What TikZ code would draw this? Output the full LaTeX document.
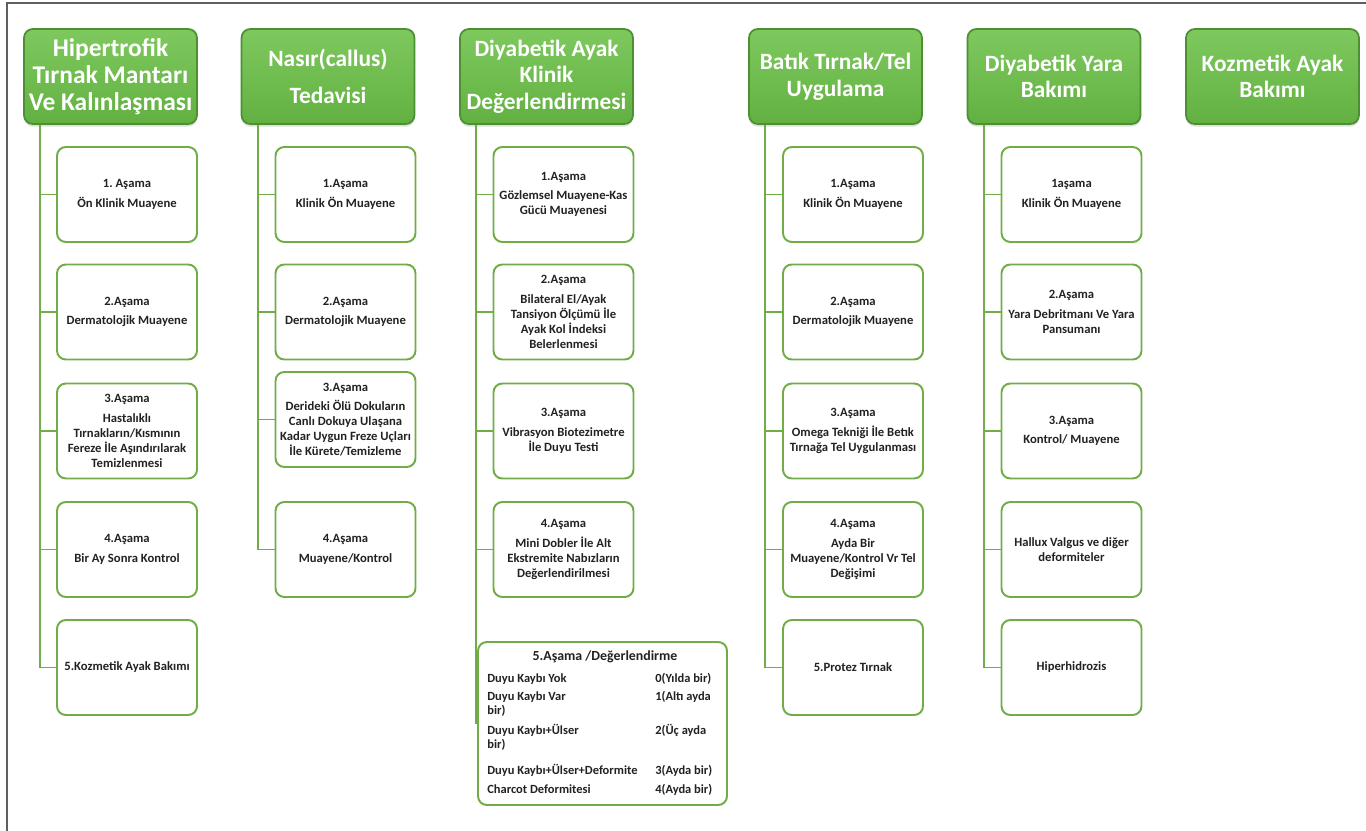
\documentclass[tikz,border=0pt]{standalone}
\usepackage{fontspec}
\setmainfont{Carlito}
\usetikzlibrary{calc, shadows}
\definecolor{hdtop}{RGB}{126,201,94}
\definecolor{hdbot}{RGB}{98,176,66}
\definecolor{hdedge}{RGB}{76,144,50}
\definecolor{stage}{RGB}{112,173,71}
\definecolor{ink}{RGB}{34,34,34}
\definecolor{framegray}{RGB}{95,95,95}

\tikzset{
  header/.style={rounded corners=5pt, top color=hdtop, bottom color=hdbot,
    draw=hdedge, line width=1pt, text=white, align=center,
    minimum width=3.46cm, minimum height=1.9cm, inner sep=1pt,
    font=\fontsize{13.3}{15.2}\selectfont\bfseries,
    drop shadow={shadow xshift=0pt, shadow yshift=-1.5pt, opacity=0.25}},
  stagebox/.style={rounded corners=5pt, draw=stage, line width=1.1pt,
    fill=white, text=ink, align=center,
    minimum width=2.8cm, minimum height=1.9cm, inner sep=1pt,
    font=\fontsize{7.2}{8.6}\selectfont\bfseries},
  link/.style={draw=stage, line width=1.1pt},
  cell/.style={text=ink, inner sep=0pt, anchor=base west,
    font=\fontsize{7.1}{8.6}\selectfont\bfseries},
}

\begin{document}
\begin{tikzpicture}[x=0.02cm, y=-0.02cm]
  \useasboundingbox (0,0) rectangle (1366,831);
  \draw[framegray, line width=1.2pt] (7,831) -- (7,3) -- (1366,3);

  % headers
  \node[header, font=\fontsize{14.5}{15.4}\selectfont\bfseries] (h1) at (110.5,76.5)
    {Hipertrofik\\Tırnak Mantarı\\Ve Kalınlaşması};
  \node[header] (h2) at (328,76.5) {Nasır(callus)\\[5.6pt]Tedavisi};
  \node[header] (h3) at (546.5,76.5) {Diyabetik Ayak\\Klinik\\Değerlendirmesi};
  \node[header] (h4) at (835.5,76.5) {Batık Tırnak/Tel\\Uygulama};
  \node[header] (h5) at (1054,76.5) {Diyabetik Yara\\Bakımı};
  \node[header] (h6) at (1272.5,76.5) {Kozmetik Ayak\\Bakımı};

  % spines
  \coordinate (s1) at ($(h1.south west)+(17,0)$);
  \coordinate (s2) at ($(h2.south west)+(17,0)$);
  \coordinate (s3) at ($(h3.south west)+(17,0)$);
  \coordinate (s4) at ($(h4.south west)+(17,0)$);
  \coordinate (s5) at ($(h5.south west)+(17,0)$);

  % column 1
  \node[stagebox] (c11) at (127,194.5) {1.\ Aşama\\[2.4pt]Ön Klinik Muayene};
  \node[stagebox] (c12) at (127,312) {2.Aşama\\[2.4pt]Dermatolojik Muayene};
  \node[stagebox] (c13) at (127,431) {3.Aşama\\[2.4pt]Hastalıklı\\Tırnakların/Kısmının\\Fereze İle Aşındırılarak\\Temizlenmesi};
  \node[stagebox] (c14) at (127,549.5) {4.Aşama\\[2.4pt]Bir Ay Sonra Kontrol};
  \node[stagebox] (c15) at (127,667.5) {5.Kozmetik Ayak Bakımı};

  % column 2
  \node[stagebox] (c21) at (345.5,194.5) {1.Aşama\\[2.4pt]Klinik Ön Muayene};
  \node[stagebox] (c22) at (345.5,312) {2.Aşama\\[2.4pt]Dermatolojik Muayene};
  \node[stagebox] (c23) at (345.5,419.5) {3.Aşama\\[2.4pt]Derideki Ölü Dokuların\\Canlı Dokuya Ulaşana\\Kadar Uygun Freze Uçları\\İle Kürete/Temizleme};
  \node[stagebox] (c24) at (345.5,549.5) {4.Aşama\\[2.4pt]Muayene/Kontrol};

  % column 3
  \node[stagebox] (c31) at (563.5,194.5) {1.Aşama\\[2.4pt]Gözlemsel Muayene-Kas\\Gücü Muayenesi};
  \node[stagebox] (c32) at (563.5,312) {2.Aşama\\[2.4pt]Bilateral El/Ayak\\Tansiyon Ölçümü İle\\Ayak Kol İndeksi\\Belerlenmesi};
  \node[stagebox] (c33) at (563.5,431) {3.Aşama\\[2.4pt]Vibrasyon Biotezimetre\\İle Duyu Testi};
  \node[stagebox] (c34) at (563.5,549.5) {4.Aşama\\[2.4pt]Mini Dobler İle Alt\\Ekstremite Nabızların\\Değerlendirilmesi};
  \node[stagebox, minimum width=4.98cm, minimum height=3.26cm] (c35) at (602.5,723.5) {};
  \node[cell, anchor=base, font=\fontsize{7.9}{9}\selectfont\bfseries] (t0) at (605,660) {5.Aşama /Değerlendirme};
  \node[cell] (t1a) at (487,682) {Duyu Kaybı Yok};
  \node[cell] (t1b) at (655,682) {0(Yılda bir)};
  \node[cell] (t2a) at (487,700) {Duyu Kaybı Var};
  \node[cell] (t2b) at (655,700) {1(Altı ayda};
  \node[cell] (t2c) at (487,714) {bir)};
  \node[cell] (t3a) at (487,734) {Duyu Kaybı+Ülser};
  \node[cell] (t3b) at (655,734) {2(Üç ayda};
  \node[cell] (t3c) at (487,748) {bir)};
  \node[cell] (t4a) at (487,774) {Duyu Kaybı+Ülser+Deformite};
  \node[cell] (t4b) at (655,774) {3(Ayda bir)};
  \node[cell] (t5a) at (487,793) {Charcot Deformitesi};
  \node[cell] (t5b) at (655,793) {4(Ayda bir)};

  % column 4
  \node[stagebox] (c41) at (853,194.5) {1.Aşama\\[2.4pt]Klinik Ön Muayene};
  \node[stagebox] (c42) at (853,312) {2.Aşama\\[2.4pt]Dermatolojik Muayene};
  \node[stagebox] (c43) at (853,431) {3.Aşama\\[2.4pt]Omega Tekniği İle Betık\\Tırnağa Tel Uygulanması};
  \node[stagebox] (c44) at (853,549.5) {4.Aşama\\[2.4pt]Ayda Bir\\Muayene/Kontrol Vr Tel\\Değişimi};
  \node[stagebox] (c45) at (853,667.5) {5.Protez Tırnak};

  % column 5
  \node[stagebox] (c51) at (1071.5,194.5) {1aşama\\[2.4pt]Klinik Ön Muayene};
  \node[stagebox] (c52) at (1071.5,312) {2.Aşama\\[2.4pt]Yara Debritmanı Ve Yara\\Pansumanı};
  \node[stagebox] (c53) at (1071.5,431) {3.Aşama\\[2.4pt]Kontrol/ Muayene};
  \node[stagebox] (c54) at (1071.5,549.5) {Hallux Valgus ve diğer\\deformiteler};
  \node[stagebox] (c55) at (1071.5,667.5) {Hiperhidrozis};

  % connectors
  \draw[link] (s1) |- (c11.west);
  \draw[link] (s1) |- (c12.west);
  \draw[link] (s1) |- (c13.west);
  \draw[link] (s1) |- (c14.west);
  \draw[link] (s1) |- (c15.west);
  \draw[link] (s2) |- (c21.west);
  \draw[link] (s2) |- (c22.west);
  \draw[link] (s2) |- (c23.west);
  \draw[link] (s2) |- (c24.west);
  \draw[link] (s3) |- (c31.west);
  \draw[link] (s3) |- (c32.west);
  \draw[link] (s3) |- (c33.west);
  \draw[link] (s3) |- (c34.west);
  \draw[link] (s3) |- (c35.west);
  \draw[link] (s4) |- (c41.west);
  \draw[link] (s4) |- (c42.west);
  \draw[link] (s4) |- (c43.west);
  \draw[link] (s4) |- (c44.west);
  \draw[link] (s4) |- (c45.west);
  \draw[link] (s5) |- (c51.west);
  \draw[link] (s5) |- (c52.west);
  \draw[link] (s5) |- (c53.west);
  \draw[link] (s5) |- (c54.west);
  \draw[link] (s5) |- (c55.west);
\end{tikzpicture}
\end{document}
